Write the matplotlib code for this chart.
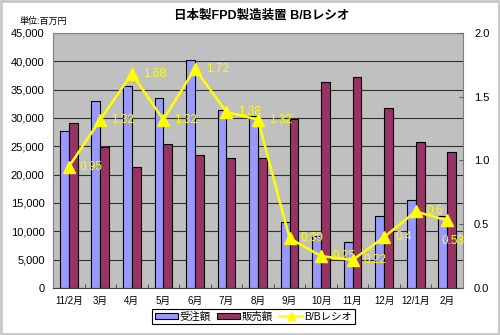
import matplotlib
matplotlib.use("Agg")
import matplotlib.pyplot as plt
import numpy as np
from matplotlib.patches import Rectangle
from matplotlib.lines import Line2D
from matplotlib.patches import Patch

plt.rcParams['font.family'] = ['Liberation Sans', 'Noto Sans CJK JP', 'DejaVu Sans']

months = ['11/2月', '3月', '4月', '5月', '6月', '7月', '8月', '9月', '10月', '11月', '12月', '12/1月', '2月']
orders = [27700, 33000, 35650, 33470, 40170, 31400, 30300, 11700, 9100, 8100, 12700, 15470, 12700]
sales = [29050, 24940, 21300, 25350, 23410, 22880, 23000, 29820, 36400, 37300, 31700, 25800, 23930]
bb_ratio = [0.95, 1.32, 1.68, 1.32, 1.72, 1.38, 1.32, 0.39, 0.25, 0.22, 0.4, 0.6, 0.53]
left_ticks = [0, 5000, 10000, 15000, 20000, 25000, 30000, 35000, 40000, 45000]
right_ticks = [0.0, 0.5, 1.0, 1.5, 2.0]

fig = plt.figure(figsize=(5.0, 3.35), dpi=100)
fig.patch.set_facecolor('white')
fig.patches.append(Rectangle((0.002, 0.003), 0.996, 0.994, transform=fig.transFigure,
                             fill=False, edgecolor='#C8C8C8', linewidth=2))

ax = fig.add_axes([0.106, 0.1403, 0.82, 0.7612])
ax.set_facecolor('#C0C0C0')
x = np.arange(len(months))
w = 0.28
ax.bar(x - w / 2, orders, width=w, color='#9999FF', edgecolor='black', linewidth=0.8, zorder=3)
ax.bar(x + w / 2, sales, width=w, color='#993366', edgecolor='black', linewidth=0.8, zorder=3)
ax.set_xlim(-0.5, len(months) - 0.5)
ax.set_ylim(0, 45000)
ax.set_yticks(left_ticks)
ax.set_yticklabels([f'{v:,}' for v in left_ticks], fontsize=8)
ax.yaxis.grid(True, color='#303030', linewidth=0.8, zorder=1)
ax.set_axisbelow(True)
ax.set_xticks(x)
ax.set_xticklabels(months, fontsize=7)
ax.tick_params(axis='x', length=0, pad=6)
ax.set_xticks(np.arange(-0.5, len(months), 1.0), minor=True)
ax.tick_params(axis='x', which='minor', direction='in', length=3, color='#404040')
ax.tick_params(axis='y', direction='in', length=0, pad=6)
for s in ax.spines.values():
    s.set_color('#808080')
    s.set_linewidth(0.8)
ax.spines['bottom'].set_color('#404040')

ax2 = ax.twinx()
ax2.set_ylim(0, 2.0)
ax2.set_yticks(right_ticks)
ax2.set_yticklabels([f'{v:.1f}' for v in right_ticks], fontsize=8)
ax2.tick_params(axis='y', direction='in', length=3, pad=8, color='#606060')
for s in ax2.spines.values():
    s.set_visible(False)
ax2.plot(x, bb_ratio, color='#FFFF00', linewidth=1.8, marker='^', markersize=8,
         markeredgecolor='#FFFF00', zorder=5)
for i, v in enumerate(bb_ratio):
    if i == len(bb_ratio) - 1:
        off = (-4, -15)
    else:
        off = (8, 0)
    ax2.annotate(f'{v:g}', (x[i], v), xytext=off, textcoords='offset points',
                 ha='left', va='center', fontsize=8.5, color='#FFFF00', zorder=6)

fig.text(0.524, 0.953, '日本製FPD製造装置 B/Bレシオ', ha='center', va='center',
         fontsize=9, fontweight='bold')
fig.text(0.04, 0.935, '単位:百万円', ha='left', va='center', fontsize=6.5)

handles = [Patch(facecolor='#9999FF', edgecolor='black', linewidth=0.8),
           Patch(facecolor='#993366', edgecolor='black', linewidth=0.8),
           Line2D([0], [0], color='#FFFF00', linewidth=1.8, marker='^', markersize=6)]
leg = fig.legend(handles, ['受注額', '販売額', 'B/Bレシオ'], loc='center',
                 bbox_to_anchor=(0.507, 0.055), ncol=3, fontsize=7.5, frameon=True,
                 fancybox=False, edgecolor='black', handlelength=2.2, handleheight=0.5,
                 handletextpad=0.2, columnspacing=0.6, borderpad=0.25, framealpha=1)
leg.get_frame().set_linewidth(0.8)

fig.savefig('out.png', dpi=100)
